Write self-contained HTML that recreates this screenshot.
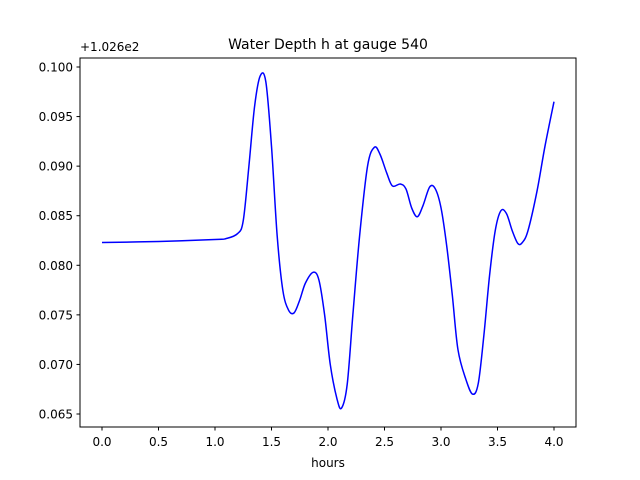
<!DOCTYPE html>
<html><head><meta charset="utf-8"><style>
body{margin:0;background:#fff}
svg{display:block;font-family:"DejaVu Sans","Liberation Sans",sans-serif}
</style></head><body>
<svg id="chart" width="640" height="480" viewBox="0 0 640 480">
<rect width="640" height="480" fill="#fff"/>
<text x="328" y="49" font-size="14" text-anchor="middle">Water Depth h at gauge 540</text>
<text x="80" y="51" font-size="12">+1.026e2</text>
<g id="xticks"></g><g id="yticks"></g>
<path id="line" fill="none" stroke="#0000ff" stroke-width="1.5"/>
<rect x="80" y="58" width="496" height="369" fill="none" stroke="#000" stroke-width="1"/>
<text x="328" y="467" font-size="12" text-anchor="middle">hours</text>
</svg>
<script>
const hours=[0,0.5,1.0,1.1,1.2,1.25,1.3,1.35,1.4,1.45,1.5,1.55,1.6,1.65,1.7,1.75,1.8,1.87,1.92,1.97,2.02,2.08,2.12,2.17,2.22,2.28,2.35,2.41,2.46,2.52,2.57,2.64,2.69,2.74,2.79,2.84,2.9,2.95,3.0,3.05,3.1,3.15,3.22,3.28,3.33,3.38,3.43,3.48,3.53,3.58,3.63,3.68,3.72,3.77,3.85,3.92,4.0];
const depth=[0.0823,0.0824,0.0826,0.0827,0.0832,0.0845,0.090,0.096,0.0991,0.0985,0.092,0.083,0.0775,0.0755,0.0752,0.0765,0.0782,0.0793,0.0785,0.075,0.070,0.0665,0.0656,0.068,0.075,0.083,0.090,0.0919,0.0912,0.0893,0.0880,0.0882,0.0877,0.0858,0.0849,0.0860,0.0879,0.0877,0.0858,0.082,0.077,0.0715,0.0685,0.0670,0.0681,0.073,0.079,0.0835,0.0855,0.0852,0.0835,0.0822,0.0823,0.0835,0.0875,0.092,0.0965];
const xTicks=[0,0.5,1.0,1.5,2.0,2.5,3.0,3.5,4.0];
const yTicks=[0.065,0.070,0.075,0.080,0.085,0.090,0.095,0.100];
const X=v=>102+v*113, Y=v=>414-(v-0.065)/0.005*49.571;
const NS="http://www.w3.org/2000/svg";
const xg=document.getElementById('xticks'),yg=document.getElementById('yticks');
xTicks.forEach(t=>{
  const l=document.createElementNS(NS,'line');
  l.setAttribute('x1',X(t));l.setAttribute('x2',X(t));l.setAttribute('y1',427);l.setAttribute('y2',430.5);l.setAttribute('stroke','#000');
  
  
  xg.appendChild(l);
  const s=document.createElementNS(NS,'text');
  s.setAttribute('x',X(t));s.setAttribute('y',446);s.setAttribute('font-size','12');s.setAttribute('text-anchor','middle');
  s.textContent=t.toFixed(1);
  
  
  xg.appendChild(s);
});
yTicks.forEach(t=>{
  const l=document.createElementNS(NS,'line');
  l.setAttribute('x1',76.5);l.setAttribute('x2',80);l.setAttribute('y1',Y(t));l.setAttribute('y2',Y(t));l.setAttribute('stroke','#000');
  
  
  yg.appendChild(l);
  const s=document.createElementNS(NS,'text');
  s.setAttribute('x',73);s.setAttribute('y',Y(t)+4.5);s.setAttribute('font-size','12');s.setAttribute('text-anchor','end');
  s.textContent=t.toFixed(3);
  
  
  yg.appendChild(s);
});
const P=hours.map((h,i)=>[X(h),Y(depth[i])]);
let d='M'+P[0][0]+','+P[0][1];
for(let i=0;i<P.length-1;i++){
  const p0=P[Math.max(0,i-1)],p1=P[i],p2=P[i+1],p3=P[Math.min(P.length-1,i+2)];
  const c1=[p1[0]+(p2[0]-p0[0])/6,p1[1]+(p2[1]-p0[1])/6];
  const c2=[p2[0]-(p3[0]-p1[0])/6,p2[1]-(p3[1]-p1[1])/6];
  d+=' C'+c1+' '+c2+' '+p2;
}
document.getElementById('line').setAttribute('d',d);
</script>
</body></html>
